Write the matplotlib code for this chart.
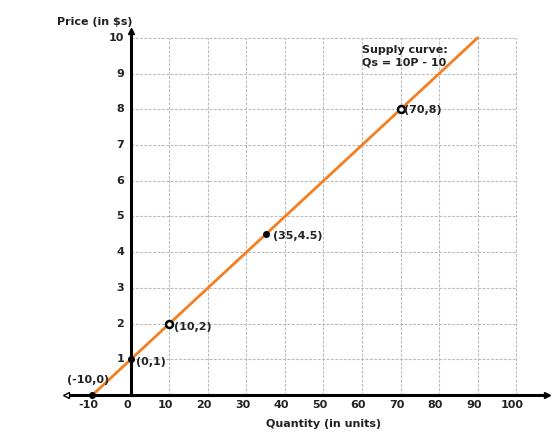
import matplotlib
matplotlib.use('Agg')
import matplotlib.pyplot as plt

# Supply curve: Qs = 10P - 10
line_q = [-10, 90]
line_p = [0, 10]

# labelled points
pt_q = [-10, 0, 10, 35, 70]
pt_p = [0, 1, 2, 4.5, 8]
pt_labels = ['(-10,0)', '(0,1)', '(10,2)', '(35,4.5)', '(70,8)']
pt_open = [False, False, True, False, True]

x_ticks = [-10, 0, 10, 20, 30, 40, 50, 60, 70, 80, 90, 100]
y_ticks = [1, 2, 3, 4, 5, 6, 7, 8, 9, 10]

fig = plt.figure(figsize=(5.6, 4.38), dpi=100)
ax = fig.add_axes([0.0964, 0.0005, 0.8938, 0.9617])
ax.set_xlim(-20, 110)
ax.set_ylim(-1.2, 10.6)

# dashed grid, only in the first quadrant
grid_kw = dict(color='#bcbcbc', linestyle=(0, (2.6, 1.3)), linewidth=0.8, zorder=1)
for x in x_ticks[2:]:
    ax.plot([x, x], [0, 10], **grid_kw)
for y in y_ticks:
    ax.plot([0, 100], [y, y], **grid_kw)

# axes with arrows
for s in ['top', 'right']:
    ax.spines[s].set_visible(False)
ax.spines['bottom'].set_position(('data', 0))
ax.spines['left'].set_position(('data', 0))
ax.spines['bottom'].set_bounds(-17, 108)
ax.spines['left'].set_bounds(0, 10.2)
ax.spines['bottom'].set_linewidth(2.2)
ax.spines['left'].set_linewidth(2.2)
ax.spines['bottom'].set_zorder(2)
ax.spines['left'].set_zorder(2)
ax.plot([108], [0], marker='>', color='black', markersize=5, clip_on=False, zorder=3)
ax.plot([-17], [0], marker='<', color='black', markersize=5, mfc='white', clip_on=False, zorder=3)
ax.plot([0], [10.2], marker='^', color='black', markersize=4, clip_on=False, zorder=3)

ax.set_xticks([])
ax.set_yticks([])
tick_font = dict(fontsize=8, fontweight='bold', color='#222222')
for x in x_ticks:
    ax.text(x - 1, -0.28, str(x), ha='center', va='center', **tick_font)
for y in y_ticks:
    ax.text(-1.8, y, str(y), ha='right', va='center', **tick_font)

# supply line
ax.plot(line_q, line_p, color='#F47F20', linewidth=2, zorder=4)

# points and labels
label_pos = {'(-10,0)': (-16.5, 0.42, 'left'), '(0,1)': (1.4, 0.92, 'left'),
             '(10,2)': (11.2, 1.9, 'left'), '(35,4.5)': (36.8, 4.45, 'left'),
             '(70,8)': (70.8, 7.97, 'left')}
for q, p, lab, op in zip(pt_q, pt_p, pt_labels, pt_open):
    if op:
        ax.plot(q, p, marker='o', markersize=5, mfc='white', mec='black', mew=1.8, zorder=5)
    else:
        ax.plot(q, p, marker='o', markersize=4, color='black', zorder=5)
    lx, ly, ha = label_pos[lab]
    ax.text(lx, ly, lab, ha=ha, va='center', fontsize=8, fontweight='bold', color='#222222', zorder=6)

ax.text(60, 9.5, 'Supply curve:\nQs = 10P - 10', ha='left', va='center',
        fontsize=8, fontweight='bold', color='#222222', linespacing=1.3)

ax.text(0.3, 10.45, 'Price (in $s)', ha='right', va='center', fontsize=8, fontweight='bold', color='#222222')
ax.text(50, -0.8, 'Quantity (in units)', ha='center', va='center', fontsize=8, fontweight='bold', color='#222222')

fig.savefig('out.png', dpi=100)
